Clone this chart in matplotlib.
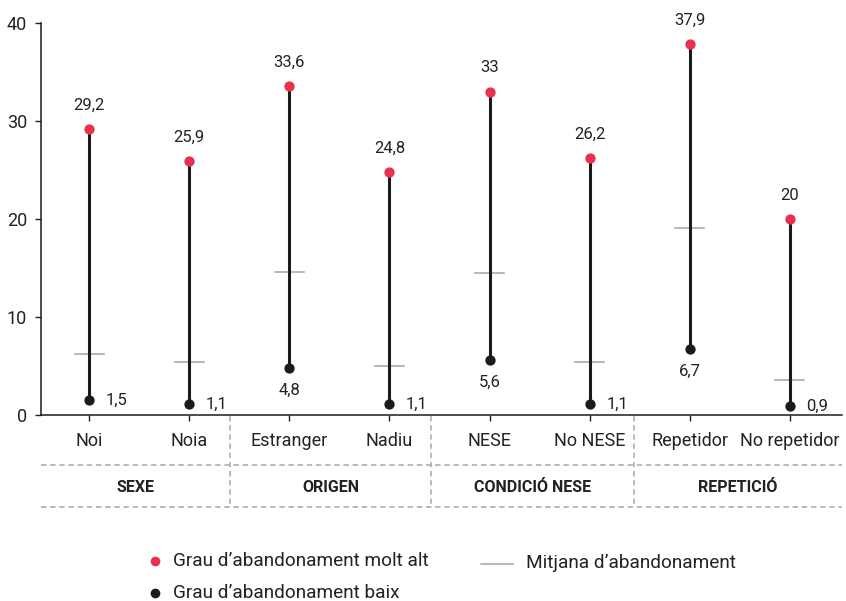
import matplotlib.pyplot as plt
from matplotlib.lines import Line2D

plt.rcParams['font.family'] = ['Roboto', 'DejaVu Sans']

categories = ['Noi', 'Noia', 'Estranger', 'Nadiu', 'NESE', 'No NESE', 'Repetidor', 'No repetidor']
high = [29.2, 25.9, 33.6, 24.8, 33.0, 26.2, 37.9, 20.0]
low = [1.5, 1.1, 4.8, 1.1, 5.6, 1.1, 6.7, 0.9]
mean = [6.2, 5.4, 14.6, 5.0, 14.5, 5.4, 19.1, 3.6]
groups = ['SEXE', 'ORIGEN', 'CONDICIÓ NESE', 'REPETICIÓ']

RED = '#e8304f'
DARK = '#1c1a1b'
GREY = '#a3a3a3'
TXT = '#222222'

def fmt(v):
    s = f'{v:.1f}'.replace('.', ',')
    return s[:-2] if s.endswith(',0') else s

fig = plt.figure(figsize=(8.46, 6.01), dpi=100)
ax = fig.add_axes([41/846, 1-415/601, 801/846, 392/601])

x = list(range(len(categories)))
for i in x:
    ax.plot([i, i], [low[i], high[i]], color=DARK, lw=2.2, zorder=2, solid_capstyle='butt')
    ax.plot([i - 0.145, i + 0.145], [mean[i], mean[i]], color=GREY, lw=1.1, zorder=1)
ax.scatter(x, high, s=55, color=RED, zorder=3, linewidths=0)
ax.scatter(x, low, s=55, color=DARK, zorder=3, linewidths=0)

for i in x:
    ax.annotate(fmt(high[i]), (i, high[i]), xytext=(0, 17), textcoords='offset points',
                ha='center', va='center', fontsize=12, color=TXT)
    if low[i] > 3:
        ax.annotate(fmt(low[i]), (i, low[i]), xytext=(0, -16), textcoords='offset points',
                    ha='center', va='center', fontsize=12, color=TXT)
    else:
        ax.annotate(fmt(low[i]), (i, low[i]), xytext=(12, 0), textcoords='offset points',
                    ha='left', va='center', fontsize=12, color=TXT)

ax.set_xlim(-0.48, 7.52)
ax.set_ylim(0, 40)
ax.set_yticks([0, 10, 20, 30, 40])
ax.set_xticks(x)
ax.set_xticklabels(categories)
ax.tick_params(axis='both', labelsize=13, colors=TXT, length=4, width=1, pad=6)
ax.tick_params(axis='x', pad=8)
for s in ['top', 'right']:
    ax.spines[s].set_visible(False)
for s in ['left', 'bottom']:
    ax.spines[s].set_color(DARK)
    ax.spines[s].set_linewidth(1.1)

# group bands below the axis (figure pixel coords converted)
W, H = 846, 601
def fx(px):
    return px / W
def fy(py):
    return 1 - py / H

dash = dict(color='#a8a8a8', lw=1.1, ls=(0, (3.5, 2.5)))
for yy in [465, 507]:
    fig.add_artist(Line2D([fx(41), fx(842)], [fy(yy), fy(yy)], **dash))
seps = [230, 431, 634]
for sx in seps:
    fig.add_artist(Line2D([fx(sx), fx(sx)], [fy(416), fy(507)], **dash))
edges = [41] + seps + [842]
for g, a, b in zip(groups, edges[:-1], edges[1:]):
    fig.text(fx((a + b) / 2), fy(487), g, ha='center', va='center',
             fontsize=11.5, fontweight='bold', color=TXT)

# legend
fig.add_artist(Line2D([fx(155)], [fy(561)], marker='o', ms=7, color=RED, mew=0))
fig.text(fx(173), fy(561), "Grau d’abandonament molt alt", ha='left', va='center', fontsize=13.7, color=TXT)
fig.add_artist(Line2D([fx(155)], [fy(593)], marker='o', ms=7, color=DARK, mew=0))
fig.text(fx(173), fy(593), "Grau d’abandonament baix", ha='left', va='center', fontsize=13.7, color=TXT)
fig.add_artist(Line2D([fx(481), fx(513)], [fy(564), fy(564)], color=GREY, lw=1.1))
fig.text(fx(526), fy(563), "Mitjana d’abandonament", ha='left', va='center', fontsize=13.7, color=TXT)

fig.savefig('out.png', dpi=100)
